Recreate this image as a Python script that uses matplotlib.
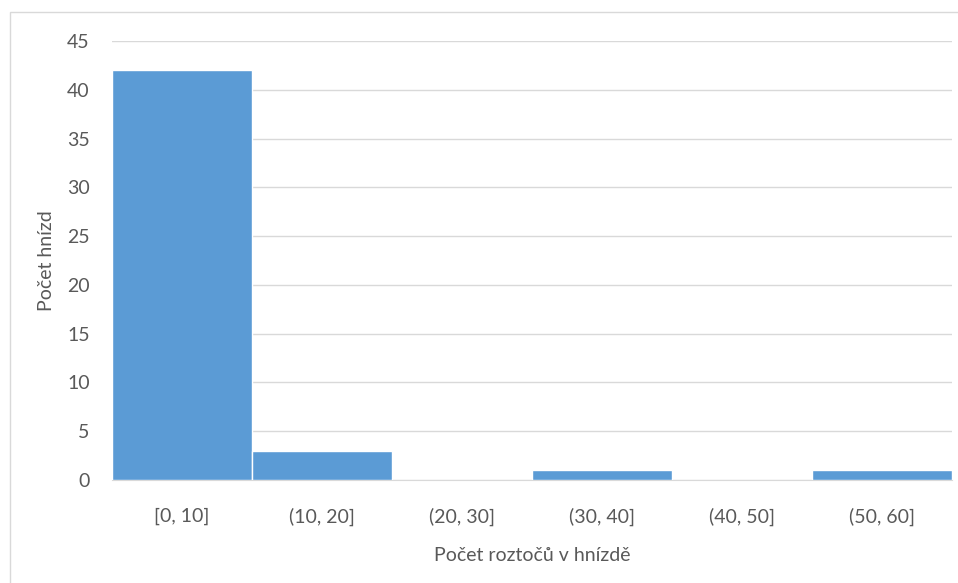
import matplotlib
matplotlib.use("Agg")
import matplotlib.pyplot as plt
from matplotlib.patches import Rectangle

# Histogram of mite counts per nest
categories = ["[0, 10]", "(10, 20]", "(20, 30]", "(30, 40]", "(40, 50]", "(50, 60]"]
counts = [42, 3, 0, 1, 0, 1]
y_ticks = [0, 5, 10, 15, 20, 25, 30, 35, 40, 45]

plt.rcParams["font.family"] = ["Lato", "DejaVu Sans"]
text_color = "#595959"
bar_color = "#5B9BD5"
grid_color = "#D9D9D9"

fig = plt.figure(figsize=(9.58, 5.83), dpi=100)
fig.patch.set_facecolor("white")

# chart-area border
fig.add_artist(Rectangle((10 / 958, -0.01), 1.0, 1 - 12 / 583 + 0.01,
                         transform=fig.transFigure, fill=False,
                         edgecolor="#D9D9D9", linewidth=1.0))

ax = fig.add_axes([112 / 958, 1 - 480 / 583, 840 / 958, 439 / 583])
x = range(len(categories))
ax.bar(x, counts, width=1.0, color=bar_color, edgecolor="white",
       linewidth=1.0, zorder=3)

ax.set_xlim(-0.5, len(categories) - 0.5)
ax.set_ylim(0, 45)
ax.set_yticks(y_ticks)
ax.set_xticks(list(x))
ax.set_xticklabels(categories)
ax.grid(axis="y", color=grid_color, linewidth=1.0, zorder=0)
ax.tick_params(axis="both", length=0, colors=text_color, labelsize=14)
ax.tick_params(axis="x", pad=20)
ax.tick_params(axis="y", pad=16)
for side in ["top", "right", "left"]:
    ax.spines[side].set_visible(False)
ax.spines["bottom"].set_color(grid_color)

ax.set_ylabel("Počet hnízd", fontsize=14, color=text_color, labelpad=9)
ax.set_xlabel("Počet roztočů v hnízdě", fontsize=14, color=text_color, labelpad=15)

fig.savefig("out.png", dpi=100)
